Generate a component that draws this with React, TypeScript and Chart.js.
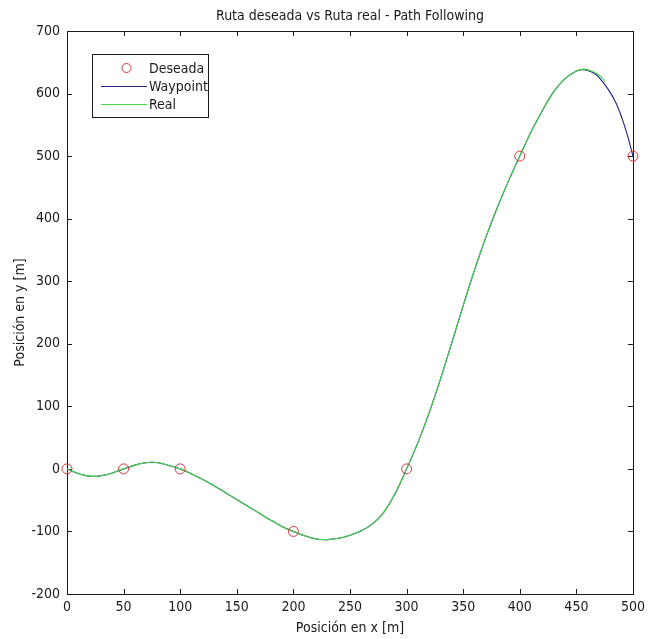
import React, { useEffect, useRef } from "react";
import { Chart, registerables } from "chart.js";

Chart.register(...registerables);

// Desired waypoints (circles)
const desiredX = [0, 50, 100, 200, 300, 400, 500];
const desiredY = [0, 0, 0, -100, 0, 500, 500];

// Waypoint reference path
const waypointX = [0, 5, 10, 15, 22, 30, 40, 50, 60, 68, 75, 82, 90, 100, 110, 120, 130, 140, 150, 160, 170, 180, 190, 200, 210, 220, 230, 240, 250, 260, 270, 280, 290, 300, 310, 320, 330, 340, 350, 360, 370, 380, 390, 400, 410, 420, 430, 440, 450, 455, 460, 466, 470, 478, 485, 490, 495, 500];
const waypointY = [0, -4, -7.5, -10, -12, -11, -6.5, 0, 6, 9.5, 10.5, 9.5, 5.5, 0, -8, -17, -27, -38, -49, -60, -71, -82, -92, -100, -107, -112, -113, -111, -106, -99, -88, -69, -39, 0, 42, 90, 144, 202, 261, 318, 370, 417, 460, 500, 539, 573, 603, 624, 636, 638, 637, 632, 626, 607, 585, 562, 534, 500];

// Real followed path
const realX = [0, 5, 10, 15, 22, 30, 40, 50, 60, 68, 75, 82, 90, 100, 110, 120, 130, 140, 150, 160, 170, 180, 190, 200, 210, 220, 230, 240, 250, 260, 270, 280, 290, 300, 310, 320, 330, 340, 350, 360, 370, 380, 390, 400, 410, 420, 430, 440, 450, 456, 462, 467, 471, 474, 475];
const realY = [0, -4, -7.5, -10, -12, -11, -6.5, 0, 6, 9.5, 10.5, 9.5, 5.5, 0, -8, -17, -27, -38, -49, -60, -71, -82, -92, -100, -107, -112, -113, -111, -106, -99, -88, -69, -39, 0, 42, 90, 144, 202, 261, 318, 370, 417, 460, 500, 539, 573, 603, 624, 636, 639, 637, 633, 628, 622, 618];

const seriesLabels = ["Deseada", "Waypoint", "Real"];
const xTitle = "Posición en x [m]";
const yTitle = "Posición en y [m]";
const chartTitle = "Ruta deseada vs Ruta real - Path Following";

const RED = "#d23c3c";
const NAVY = "#1f1f86";
const GREEN = "#45d845";
const INK = "#1a1a1a";
const FONT = "'Liberation Sans Narrow', 'DejaVu Sans Condensed', 'Liberation Sans', Arial, sans-serif";

const toPoints = (xs: number[], ys: number[]) => xs.map((x, i) => ({ x, y: ys[i] }));

const framePlugin = {
  id: "matlabFrame",
  beforeDatasetsDraw(chart: any) {
    const { ctx, chartArea: a, scales } = chart;
    ctx.save();
    ctx.strokeStyle = INK;
    ctx.lineWidth = 1;
    ctx.strokeRect(Math.round(a.left) + 0.5, Math.round(a.top) + 0.5, Math.round(a.right - a.left), Math.round(a.bottom - a.top));
    const len = 5;
    ctx.beginPath();
    for (const t of scales.x.ticks) {
      const p = Math.round(scales.x.getPixelForValue(t.value)) + 0.5;
      ctx.moveTo(p, a.bottom);
      ctx.lineTo(p, a.bottom - len);
      ctx.moveTo(p, a.top);
      ctx.lineTo(p, a.top + len);
    }
    for (const t of scales.y.ticks) {
      const p = Math.round(scales.y.getPixelForValue(t.value)) + 0.5;
      ctx.moveTo(a.left, p);
      ctx.lineTo(a.left + len, p);
      ctx.moveTo(a.right, p);
      ctx.lineTo(a.right - len, p);
    }
    ctx.stroke();
    ctx.restore();
  },
  afterDatasetsDraw(chart: any) {
    const { ctx } = chart;
    const ds = chart.data.datasets;
    ctx.save();
    // legend box
    const bx = 92.5, by = 54.5, bw = 116, bh = 63;
    ctx.fillStyle = "#ffffff";
    ctx.fillRect(bx, by, bw, bh);
    ctx.strokeStyle = INK;
    ctx.lineWidth = 1;
    ctx.strokeRect(bx, by, bw, bh);
    ctx.font = `14px ${FONT}`;
    ctx.textBaseline = "middle";
    ctx.textAlign = "left";
    const rows = [68, 86, 104];
    rows.forEach((ry, i) => {
      const d = ds[i];
      if (i === 0) {
        ctx.beginPath();
        ctx.strokeStyle = d.borderColor;
        ctx.arc(126.5, ry, 4.5, 0, Math.PI * 2);
        ctx.stroke();
      } else {
        ctx.beginPath();
        ctx.strokeStyle = d.borderColor;
        ctx.moveTo(101, ry + 0.5);
        ctx.lineTo(147, ry + 0.5);
        ctx.stroke();
      }
      ctx.fillStyle = INK;
      ctx.fillText(d.label, 149, ry + 1);
    });
    ctx.restore();
  },
  afterDraw(chart: any) {
    const { ctx, chartArea: a } = chart;
    const cx = (a.left + a.right) / 2;
    const cy = (a.top + a.bottom) / 2;
    ctx.save();
    ctx.fillStyle = INK;
    ctx.font = `14px ${FONT}`;
    ctx.textAlign = "center";
    ctx.textBaseline = "middle";
    ctx.fillText(chartTitle, cx, 16);
    ctx.fillText(xTitle, cx, 628);
    ctx.translate(20, cy);
    ctx.rotate(-Math.PI / 2);
    ctx.fillText(yTitle, 0, 0);
    ctx.restore();
  },
};

export default function App() {
  const canvasRef = useRef<HTMLCanvasElement | null>(null);

  useEffect(() => {
    const canvas = canvasRef.current;
    if (!canvas) return;
    const chart = new Chart(canvas, {
      type: "scatter",
      data: {
        datasets: [
          {
            label: seriesLabels[0],
            data: toPoints(desiredX, desiredY),
            showLine: false,
            pointStyle: "circle",
            pointRadius: 5,
            pointBorderWidth: 1,
            borderColor: RED,
            backgroundColor: "rgba(0,0,0,0)",
            pointBackgroundColor: "rgba(0,0,0,0)",
            pointBorderColor: RED,
            clip: 8,
            order: 0,
          },
          {
            label: seriesLabels[1],
            data: toPoints(waypointX, waypointY),
            showLine: true,
            pointRadius: 0,
            borderColor: NAVY,
            borderWidth: 1.1,
            tension: 0.35,
            order: 2,
          },
          {
            label: seriesLabels[2],
            data: toPoints(realX, realY),
            showLine: true,
            pointRadius: 0,
            borderColor: GREEN,
            borderWidth: 1.1,
            tension: 0.35,
            order: 1,
          },
        ],
      },
      options: {
        responsive: false,
        animation: false,
        layout: { padding: { top: 31, right: 11, bottom: 0, left: 0 } },
        plugins: {
          legend: { display: false },
          title: { display: false },
          tooltip: { enabled: false },
        },
        scales: {
          x: {
            type: "linear",
            min: 0,
            max: 500,
            border: { display: false },
            grid: { display: false, drawTicks: false },
            ticks: { stepSize: 50, padding: 5, color: INK, font: { family: FONT, size: 14 }, maxRotation: 0 },
            afterFit: (s: any) => { s.height = 45; },
          },
          y: {
            type: "linear",
            min: -200,
            max: 700,
            border: { display: false },
            grid: { display: false, drawTicks: false },
            ticks: { stepSize: 100, padding: 7, color: INK, font: { family: FONT, size: 14 } },
            afterFit: (s: any) => { s.width = 67; },
          },
        },
      },
      plugins: [framePlugin],
    });
    return () => chart.destroy();
  }, []);

  return (
    <div style={{ position: "absolute", left: 0, top: 0, width: 650, height: 639, background: "#fff" }}>
      <canvas ref={canvasRef} width={650} height={639} style={{ display: "block" }} />
    </div>
  );
}
